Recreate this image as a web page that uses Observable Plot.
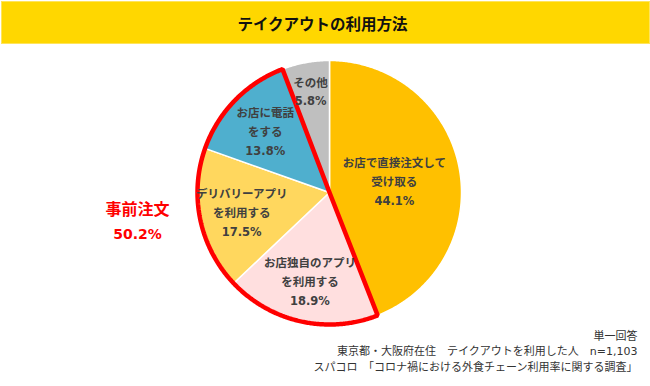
<!DOCTYPE html>
<html>
<head>
<meta charset="utf-8">
<script src="https://cdn.jsdelivr.net/npm/d3@7"></script>
<script src="https://cdn.jsdelivr.net/npm/@observablehq/plot@0.6"></script>
<style>
  html, body { margin: 0; padding: 0; background: #fff; }
  #wrap { width: 650px; height: 386px; overflow: hidden; position: relative; }
  #title {
    box-sizing: border-box; height: 43px; width: 649px; margin-left: 1px; margin-top: 1px;
    background: #FFD700; border: 1px solid #FFE45C;
    font-family: "Noto Sans CJK JP", sans-serif; font-weight: bold; font-size: 15.5px;
    color: #111; display: flex; align-items: center; justify-content: center;
    padding-right: 6px;
  }
  svg { display: block; }
</style>
</head>
<body>
<div id="wrap">
  <div id="title">テイクアウトの利用方法</div>
  <div id="chart"></div>
</div>
<script>
// ---- data ----
const categories = ["お店で直接注文して\n受け取る", "お店独自のアプリ\nを利用する", "デリバリーアプリ\nを利用する", "お店に電話\nをする", "その他"];
const values = [44.1, 18.9, 17.5, 13.8, 5.8];
const colors = ["#FFC000", "#FFDFDF", "#FFD75E", "#4FAFCE", "#BFBFBF"];
const highlighted = [false, true, true, true, false];
const groupLabel = "事前注文";
const groupValue = "50.2%";
const notes = ["単一回答", "東京都・大阪府在住　テイクアウトを利用した人　n=1,103", "スパコロ　「コロナ禍における外食チェーン利用率に関する調査」"];

// ---- geometry ----
const R = 132;
const total = d3.sum(values);
const toRad = p => p / total * 2 * Math.PI;
const pt = (a, r) => ({x: r * Math.sin(a), y: -r * Math.cos(a)});
function arcPoints(a0, a1, r, key) {
  const pts = [{...pt(0, 0), key}];
  const n = Math.max(2, Math.ceil((a1 - a0) / (Math.PI / 360)));
  for (let i = 0; i <= n; i++) pts.push({...pt(a0 + (a1 - a0) * i / n, r), key});
  pts.push({...pt(0, 0), key});
  return pts;
}
let acc = 0;
const slices = values.map((v, i) => {
  const a0 = toRad(acc); acc += v; const a1 = toRad(acc);
  return {i, v, a0, a1, mid: (a0 + a1) / 2};
});
const sliceMarks = slices.map(s =>
  Plot.line(arcPoints(s.a0, s.a1, R, s.i), {x: "x", y: "y", fill: colors[s.i], stroke: "white", strokeWidth: 1.5, strokeLinejoin: "round"})
);
const hl = slices.filter(s => highlighted[s.i]);
const outline = arcPoints(d3.min(hl, s => s.a0), d3.max(hl, s => s.a1), R, "hl");

const labels = slices.map(s => {
  const f = s.v > 30 ? 0.5 : s.v < 8 ? 0.79 : 0.68;
  const p = pt(s.mid, R * f);
  return {x: p.x, y: p.y, text: categories[s.i] + "\n" + s.v.toFixed(1) + "%"};
});

const font = "'DejaVu Sans', 'Noto Sans CJK JP', sans-serif";
const chart = Plot.plot({
  width: 650, height: 343,
  margin: 0,
  x: {domain: [-329, 321], range: [0, 650], axis: null},
  y: {domain: [-148, 195], range: [0, 343], axis: null},
  style: {fontFamily: font, background: "white"},
  marks: [
    ...sliceMarks,
    Plot.line(outline, {x: "x", y: "y", stroke: "#FF0000", strokeWidth: 4.5, strokeLinejoin: "miter", fill: "none"}),
    Plot.text(labels, {x: "x", y: "y", text: "text", fontSize: 11.5, fontWeight: "bold", fill: "#404040", lineHeight: 1.65}),
    Plot.text([groupLabel], {x: -192, y: 17, text: d => d, fontSize: 16, fontWeight: "bold", fill: "#FF0000"}),
    Plot.text([groupValue], {x: -192, y: 42, text: d => d, fontSize: 14, fontWeight: "bold", fill: "#FF0000"}),
    Plot.text([notes.join("\n")], {frameAnchor: "bottom-right", textAnchor: "end", lineAnchor: "bottom", dx: -13, dy: -17, text: d => d, fontSize: 11, fill: "#333", lineHeight: 1.4})
  ]
});
document.getElementById("chart").appendChild(chart);
</script>
</body>
</html>
